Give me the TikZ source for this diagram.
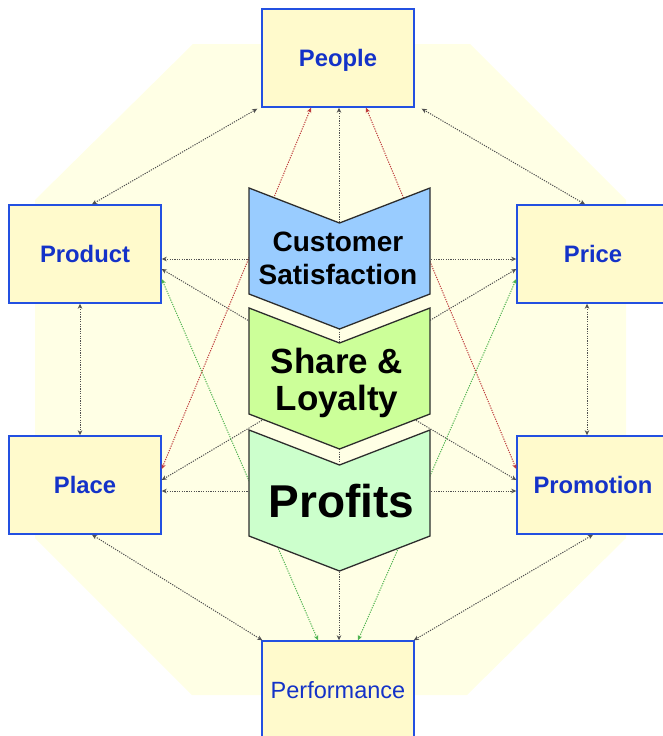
\documentclass[tikz,border=0pt]{standalone}
\usepackage{fontspec}
\setmainfont{Liberation Sans}
\usetikzlibrary{arrows.meta}
\definecolor{octfill}{RGB}{255,255,229}
\definecolor{boxfill}{RGB}{255,250,204}
\definecolor{boxline}{RGB}{35,80,225}
\definecolor{boxtext}{RGB}{20,50,200}
\definecolor{chevA}{RGB}{153,204,255}
\definecolor{chevB}{RGB}{204,255,153}
\definecolor{chevC}{RGB}{204,255,204}
\definecolor{chevline}{RGB}{45,45,45}
\definecolor{linkgray}{RGB}{80,80,80}
\definecolor{linkred}{RGB}{190,60,60}
\definecolor{linkgreen}{RGB}{80,180,80}

\begin{document}
\begin{tikzpicture}[x=1pt,y=-1pt,
  mixbox/.style={draw=boxline, line width=1.4pt, fill=boxfill,
    minimum width=152pt, minimum height=98pt, inner sep=0pt, text depth=0pt,
    text=boxtext, font=\fontsize{23.8}{24}\selectfont\bfseries},
  tip/.tip={Stealth[length=5pt,width=4.5pt,inset=1.5pt]},
  link/.style={draw=linkgray, line width=1pt, dash pattern=on 1.2pt off 1.2pt, tip-tip},
  redlink/.style={link, draw=linkred},
  greenlink/.style={link, draw=linkgreen},
  chevron/.style={draw=chevline, line width=1.3pt, line join=miter},
  chevtext/.style={inner sep=0pt, align=center, text=black},
]
\useasboundingbox (0,0) rectangle (663,736);
\clip (0,0) rectangle (663,736);

% octagonal backdrop
\fill[octfill] (193,44) -- (470,44) -- (626,200) -- (626,538) -- (467,695)
  -- (192,695) -- (35,538) -- (35,200) -- cycle;

% the six marketing boxes
\node[mixbox] (people)  at (338,58)  {People};
\node[mixbox] (product) at (85,254)  {Product};
\node[mixbox] (price)   at (593,254) {Price};
\node[mixbox] (place)   at (85,485)  {Place};
\node[mixbox] (promo)   at (593,485) {Promotion};
\node[mixbox, font=\fontsize{23.5}{24}\selectfont] (perf) at (338,690) {Performance};

% links around the ring
\draw[link] ([xshift=7pt]product.north) -- ([xshift=-4pt,yshift=-1pt]people.south west);
\draw[link] ([xshift=-8pt]price.north) -- ([xshift=7pt,yshift=-1pt]people.south east);
\draw[link] ([xshift=-5pt]product.south) -- ([xshift=-5pt]place.north);
\draw[link] ([xshift=-6pt]price.south) -- ([xshift=-6pt]promo.north);
\draw[link] ([xshift=7pt]place.south) -- ([xshift=1pt]perf.north west);
\draw[link] (promo.south) -- ([xshift=-1pt]perf.north east);

% links across the centre
\draw[link] ([yshift=-5pt]product.east) -- ([yshift=-5pt]price.west);
\draw[link] ([yshift=-15pt]product.east) -- ([yshift=5pt]promo.west);
\draw[link] ([yshift=-15pt]price.west) -- ([yshift=5pt]place.east);
\draw[link] ([yshift=-6pt]place.east) -- ([yshift=-6pt]promo.west);
\draw[greenlink] ([yshift=-25pt]product.east) -- ([xshift=-20pt]perf.north);
\draw[greenlink] ([yshift=-25pt]price.west) -- ([xshift=20pt]perf.north);
\draw[redlink] ([xshift=-27pt]people.south) -- ([yshift=16pt]place.east);
\draw[redlink] ([xshift=28pt]people.south) -- ([yshift=16pt]promo.west);
\draw[link] ([xshift=1pt]people.south) -- ([xshift=1pt]perf.north);

% stacked chevrons
\draw[chevron, fill=chevA] (249,188) -- (339.5,223) -- (430,188) -- (430,294)
  -- (339.5,329) -- (249,294) -- cycle;
\draw[chevron, fill=chevB] (249,308) -- (339.5,343) -- (430,308) -- (430,414)
  -- (339.5,449) -- (249,414) -- cycle;
\draw[chevron, fill=chevC] (249,430) -- (339.5,465) -- (430,430) -- (430,536)
  -- (339.5,571) -- (249,536) -- cycle;

\node[chevtext, font=\fontsize{28}{33}\selectfont\bfseries] (sat) at (338,258.5)
  {Customer\\Satisfaction};
\node[chevtext, font=\fontsize{35}{37}\selectfont\bfseries] (loyal) at (337,382.7)
  {Share \&\\Loyalty};
\node[chevtext, anchor=base, font=\fontsize{46}{46}\selectfont\bfseries] (profit)
  at (341.5,517) {Profits};
\end{tikzpicture}
\end{document}
